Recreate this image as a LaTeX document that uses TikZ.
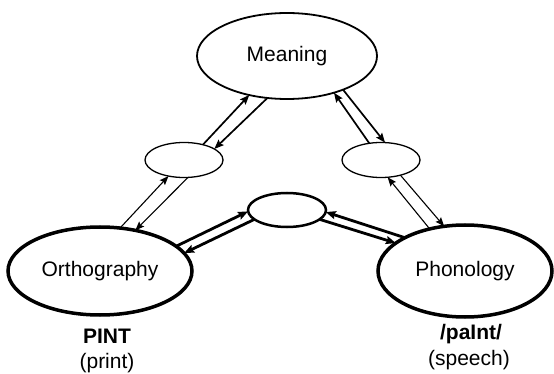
\documentclass[tikz,border=0pt]{standalone}
\usepackage{fontspec}
\setmainfont{Liberation Sans}
\usetikzlibrary{shapes.geometric,arrows.meta}
\tikzset{
  oval/.style={ellipse, draw=black, inner sep=0pt, outer sep=0pt},
  bigoval/.style={oval, line width=3.5pt},
  hidoval/.style={oval, line width=1.3pt},
  thinlink/.style={line width=1.1pt, -{Stealth[length=9pt,width=7pt,inset=1.5pt]}},
  midlink/.style={line width=1.7pt, -{Stealth[length=9.5pt,width=7.5pt,inset=1.5pt]}},
  thicklink/.style={line width=2.8pt, -{Stealth[length=10pt,width=8pt,inset=1.5pt]}},
  lbl/.style={font=\fontsize{21}{25}\selectfont},
  sublbl/.style={font=\fontsize{21}{25}\selectfont, anchor=base}
}
\begin{document}
\begin{tikzpicture}[x=1pt,y=-1pt]
\useasboundingbox (0,0) rectangle (554,374);
% nodes
\node[oval, line width=1.8pt, minimum width=180pt, minimum height=86pt, lbl] (meaning) at (287,56) {Meaning};
\node[hidoval, minimum width=78pt, minimum height=35pt] (lsmall) at (184,160) {};
\node[hidoval, minimum width=78pt, minimum height=35pt] (rsmall) at (381,160) {};
\node[oval, line width=2.5pt, minimum width=78pt, minimum height=34pt] (mid) at (287,210) {};
\node[bigoval, minimum width=184pt, minimum height=88pt, lbl] (ortho) at (100,271) {Orthography};
\node[bigoval, minimum width=174pt, minimum height=92pt, lbl] (phon) at (465,271) {Phonology};
% labels
\node[sublbl, font=\fontsize{21}{25}\selectfont\bfseries] (pint) at (107,343) {PINT};
\node[sublbl] (print) at (107,368) {(print)};
\node[sublbl, font=\fontsize{21}{25}\selectfont\bfseries] (paint) at (471,339) {/paInt/};
\node[sublbl] (speech) at (469,365) {(speech)};
% orthography <-> left hidden
\draw[thinlink] (ortho.65.6) -- (lsmall.226.6);
\draw[thinlink] (lsmall.283.2) -- (ortho.49.2);
% left hidden <-> meaning
\draw[midlink] (lsmall.39.3) -- (meaning.226.5);
\draw[midlink] (meaning.245.7) -- (lsmall.20.9);
% meaning <-> right hidden
\draw[midlink] (rsmall.125.8) -- (meaning.322.2);
\draw[midlink] (meaning.329.9) -- (rsmall.77.5);
% right hidden <-> phonology
\draw[thinlink] (phon.130) -- (rsmall.291.3);
\draw[thinlink] (rsmall.322.7) -- (phon.115.6);
% orthography <-> middle hidden
\draw[thicklink] (ortho.18) -- (mid.182.5);
\draw[thicklink] (mid.196.4) -- (ortho.12.2);
% phonology <-> middle hidden
\draw[thicklink] (phon.151.3) -- (mid.357.6);
\draw[thicklink] (mid.344.5) -- (phon.158);
\end{tikzpicture}
\end{document}
